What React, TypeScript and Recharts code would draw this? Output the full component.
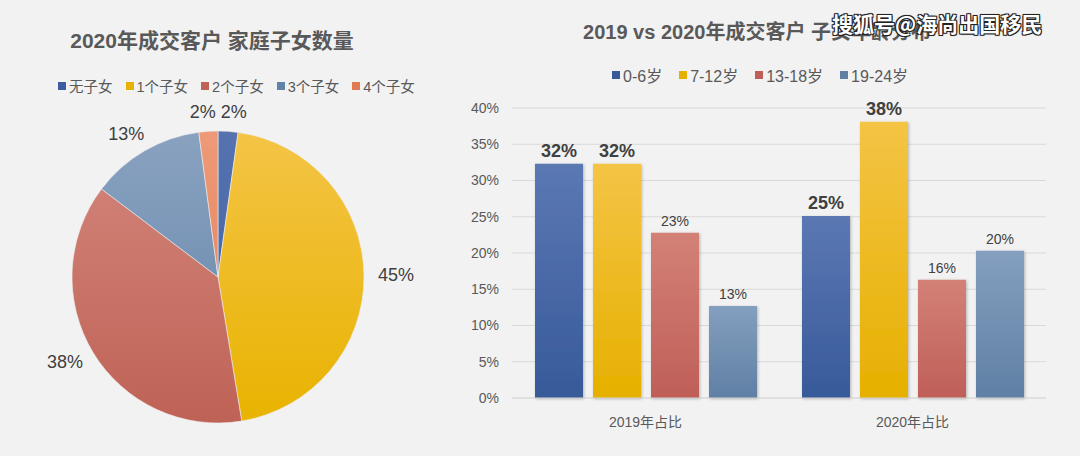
import React from 'react';
import { PieChart, Pie, Cell, BarChart, Bar, XAxis, YAxis, CartesianGrid, LabelList } from 'recharts';

// left: 2020 family children count
const pieNames = ['无子女', '1个子女', '2个子女', '3个子女', '4个子女'];
const pieValues = [2.2, 45.2, 37.9, 12.6, 2.1];
const pieColors = [
  ['#5673b0', '#3d5c9d'],
  ['#f4c446', '#e8b300'],
  ['#d4877c', '#bf6256'],
  ['#8aa2c0', '#6283a8'],
  ['#ee9a78', '#e07a52'],
];

// right: children age distribution
const barCategories = ['2019年占比', '2020年占比'];
const ageGroups = ['0-6岁', '7-12岁', '13-18岁', '19-24岁'];
const age0to6 = [32.3, 25.1];
const age7to12 = [32.3, 38.1];
const age13to18 = [22.8, 16.3];
const age19to24 = [12.7, 20.3];
const yTicks = [0, 5, 10, 15, 20, 25, 30, 35, 40];
const barColors = [
  ['#5b78b3', '#375a99'],
  ['#f4c445', '#e6b000'],
  ['#d38177', '#bf5f58'],
  ['#849fbf', '#5f80a4'],
];

const pieData = pieNames.map((name, i) => ({ name, value: pieValues[i] }));
const barData = barCategories.map((cat, i) => ({
  cat,
  a: age0to6[i],
  b: age7to12[i],
  c: age13to18[i],
  d: age19to24[i],
}));

const FONT = '"Liberation Sans", Arial, "Noto Sans CJK SC", sans-serif';
const GRAY = '#595959';
const RAD = Math.PI / 180;

const renderPieLabel = (props: any) => {
  const { cx, cy, midAngle, outerRadius, percent } = props;
  const cos = Math.cos(-midAngle * RAD);
  const sin = Math.sin(-midAngle * RAD);
  const text = `${Math.round(percent * 100)}%`;
  const halfW = (text.length - 1) * 5 + 8;
  const r = outerRadius + 10;
  const x = cx + cos * r + cos * halfW + (cos >= 0 ? 4 : -4);
  const y = cy + sin * r + sin * 9;
  return (
    <text x={x} y={y} textAnchor="middle" dominantBaseline="central" fill="#404040" fontSize={18} fontFamily={FONT}>
      {text}
    </text>
  );
};

const fmt = (v: any) => `${Math.round(Number(v))}%`;

function LegendRow({ names, colors, left, top, fontSize, gap }: any) {
  return (
    <div style={{ position: 'absolute', left, top, display: 'flex', alignItems: 'center', gap, fontSize, color: GRAY, fontFamily: FONT, whiteSpace: 'nowrap' }}>
      {names.map((n: string, i: number) => (
        <div key={n} style={{ display: 'flex', alignItems: 'center' }}>
          <span style={{ width: 8, height: 8, background: colors[i][1], marginRight: 3, display: 'inline-block' }} />
          <span>{n}</span>
        </div>
      ))}
    </div>
  );
}

export default function App() {
  return (
    <div style={{ position: 'fixed', left: 0, top: 0, width: 1080, height: 456, background: '#f2f2f2', fontFamily: FONT, overflow: 'hidden' }}>
      <div style={{ position: 'absolute', left: 0, width: 424, top: 24, textAlign: 'center', fontSize: 21, fontWeight: 'bold', color: GRAY }}>
        2020年成交客户 家庭子女数量
      </div>
      <LegendRow names={pieNames} colors={pieColors} left={58} top={75} fontSize={14.5} gap={13} />

      <div style={{ position: 'absolute', left: 0, top: 0 }}>
        <PieChart width={440} height={456}>
          <defs>
            {pieColors.map((c, i) => (
              <linearGradient key={i} id={`pg${i}`} x1="0" y1="131" x2="0" y2="423" gradientUnits="userSpaceOnUse">
                <stop offset="0%" stopColor={c[0]} />
                <stop offset="100%" stopColor={c[1]} />
              </linearGradient>
            ))}
          </defs>
          <Pie
            data={pieData}
            dataKey="value"
            nameKey="name"
            cx={213}
            cy={272}
            outerRadius={146}
            startAngle={90}
            endAngle={-270}
            stroke="#eeeeee"
            strokeWidth={0.6}
            label={renderPieLabel}
            labelLine={false}
            isAnimationActive={false}
          >
            {pieData.map((d, i) => (
              <Cell key={d.name} fill={`url(#pg${i})`} />
            ))}
          </Pie>
        </PieChart>
      </div>

      <div style={{ position: 'absolute', left: 540, width: 434, top: 16, textAlign: 'center', fontSize: 20, fontWeight: 'bold', color: GRAY }}>
        2019 vs 2020年成交客户 子女年龄分布
      </div>
      <LegendRow names={ageGroups} colors={barColors} left={612} top={63} fontSize={16} gap={17} />

      <div style={{ position: 'absolute', left: 440, top: 0 }}>
        <BarChart width={640} height={456} data={barData} margin={{ top: 108, right: 34, bottom: 28, left: 12 }} barSize={48} barGap={10}>
          <defs>
            {barColors.map((c, i) => (
              <linearGradient key={i} id={`bg${i}`} x1="0" y1="0" x2="0" y2="1">
                <stop offset="0%" stopColor={c[0]} />
                <stop offset="100%" stopColor={c[1]} />
              </linearGradient>
            ))}
            <filter id="barShadow" x="-20%" y="-5%" width="140%" height="115%">
              <feDropShadow dx="1" dy="1" stdDeviation="1.5" floodColor="#000" floodOpacity="0.25" />
            </filter>
          </defs>
          <CartesianGrid vertical={false} stroke="#d9d9d9" />
          <XAxis
            dataKey="cat"
            height={30}
            axisLine={{ stroke: '#d9d9d9' }}
            tickLine={false}
            tickSize={0}
            tickMargin={19}
            tick={{ fill: GRAY, fontSize: 14, fontFamily: FONT }}
          />
          <YAxis
            width={60}
            domain={[0, 40]}
            ticks={yTicks}
            tickFormatter={(v) => `${v}%`}
            axisLine={false}
            tickLine={false}
            tickSize={0}
            tickMargin={13}
            tick={{ fill: GRAY, fontSize: 14, fontFamily: FONT }}
          />
          {(['a', 'b', 'c', 'd'] as const).map((k, i) => (
            <Bar key={k} dataKey={k} name={ageGroups[i]} fill={`url(#bg${i})`} filter="url(#barShadow)" isAnimationActive={false}>
              <LabelList
                dataKey={k}
                position="top"
                offset={7}
                formatter={fmt}
                fill="#404040"
                fontSize={i < 2 ? 18 : 14}
                fontWeight={i < 2 ? 'bold' : 'normal'}
                fontFamily={FONT}
              />
            </Bar>
          ))}
        </BarChart>
      </div>

      <div
        style={{
          position: 'absolute',
          left: 832,
          top: 8,
          fontSize: 21,
          fontWeight: 'bold',
          color: '#ffffff',
          fontFamily: '"Noto Sans CJK SC", sans-serif',
          textShadow: '-1px -1px 0 #222, 1px -1px 0 #222, -1px 1px 0 #222, 1px 1px 0 #222, 0 0 2px #000',
          whiteSpace: 'nowrap',
        }}
      >
        搜狐号@海尚出国移民
      </div>
    </div>
  );
}
